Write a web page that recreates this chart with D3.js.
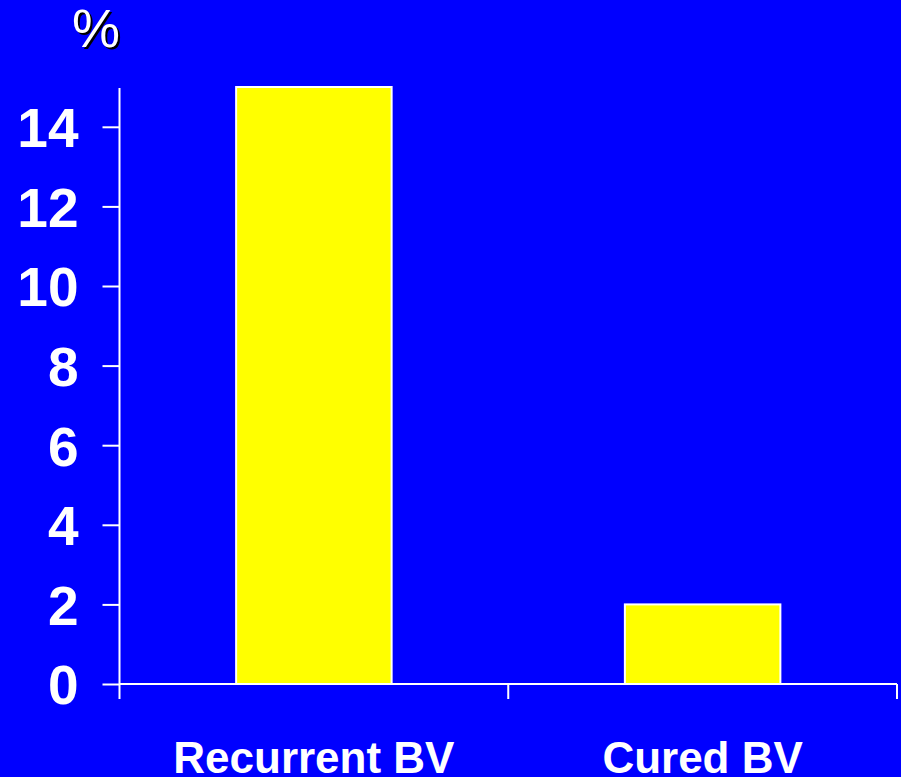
<!DOCTYPE html>
<html>
<head>
<meta charset="utf-8">
<script src="https://cdn.jsdelivr.net/npm/d3@7"></script>
<style>
  html, body { margin: 0; padding: 0; background: #0000ff; }
  svg { display: block; }
  text { font-family: "Liberation Sans", Arial, sans-serif; fill: #fff; }
</style>
</head>
<body>
<svg width="901" height="777"></svg>
<script>
/* global d3 */
var categories = ['Recurrent BV', 'Cured BV']
var values = [15, 2]
var yTicks = [0, 2, 4, 6, 8, 10, 12, 14]
var yLabel = '%'

var svg = d3.select('svg')

var plotLeft = 119.5
var plotRight = 897
var plotBottom = 684
var plotTop = 87

var x = d3.scaleBand()
    .domain(categories)
    .range([plotLeft, plotRight])
    .paddingInner(0.6)
    .paddingOuter(0.3)

var y = d3.scaleLinear()
    .domain([0, 15])
    .range([plotBottom, plotTop])

// bars
svg.append('g')
  .selectAll('rect')
  .data(values)
  .enter().append('rect')
    .attr('x', (d, i) => x(categories[i]))
    .attr('y', d => y(d))
    .attr('width', x.bandwidth())
    .attr('height', d => y(0) - y(d))
    .attr('fill', '#ffff00')
    .attr('stroke', '#fff')
    .attr('stroke-width', 2)

// y axis
var yAxis = svg.append('g')
    .attr('transform', 'translate(' + plotLeft + ',0)')
    .call(d3.axisLeft(y).tickValues(yTicks).tickSize(17).tickPadding(24))
yAxis.select('.domain').remove()
yAxis.selectAll('line').attr('stroke', '#fff').attr('stroke-width', 2)
yAxis.selectAll('text')
    .attr('fill', '#fff')
    .style('font-size', '55px')
    .style('font-weight', 'bold')
    .style('font-family', '"Liberation Sans", Arial, sans-serif')
    .attr('dy', '0.36em')

svg.append('line')
    .attr('x1', plotLeft).attr('x2', plotLeft)
    .attr('y1', y(15) + 1).attr('y2', plotBottom + 15)
    .attr('stroke', '#fff').attr('stroke-width', 2)

// x axis
svg.append('line')
    .attr('x1', plotLeft).attr('x2', plotRight)
    .attr('y1', plotBottom).attr('y2', plotBottom)
    .attr('stroke', '#fff').attr('stroke-width', 2)

var bounds = d3.range(categories.length + 1).map(i => plotLeft + i * x.step())
svg.append('g')
  .selectAll('line')
  .data(bounds.slice(1))
  .enter().append('line')
    .attr('x1', d => d).attr('x2', d => d)
    .attr('y1', plotBottom).attr('y2', plotBottom + 15)
    .attr('stroke', '#fff').attr('stroke-width', 2)

svg.append('g')
  .selectAll('text')
  .data(categories)
  .enter().append('text')
    .attr('x', d => x(d) + x.bandwidth() / 2)
    .attr('y', 773)
    .attr('text-anchor', 'middle')
    .style('font-size', '44px')
    .style('font-weight', 'bold')
    .text(d => d)

// % label with shadow
svg.append('text')
    .attr('x', 98).attr('y', 49)
    .attr('text-anchor', 'middle')
    .style('font-size', '54px')
    .style('fill', '#000')
    .text(yLabel)
svg.append('text')
    .attr('x', 96).attr('y', 47)
    .attr('text-anchor', 'middle')
    .style('font-size', '54px')
    .text(yLabel)
</script>
</body>
</html>
